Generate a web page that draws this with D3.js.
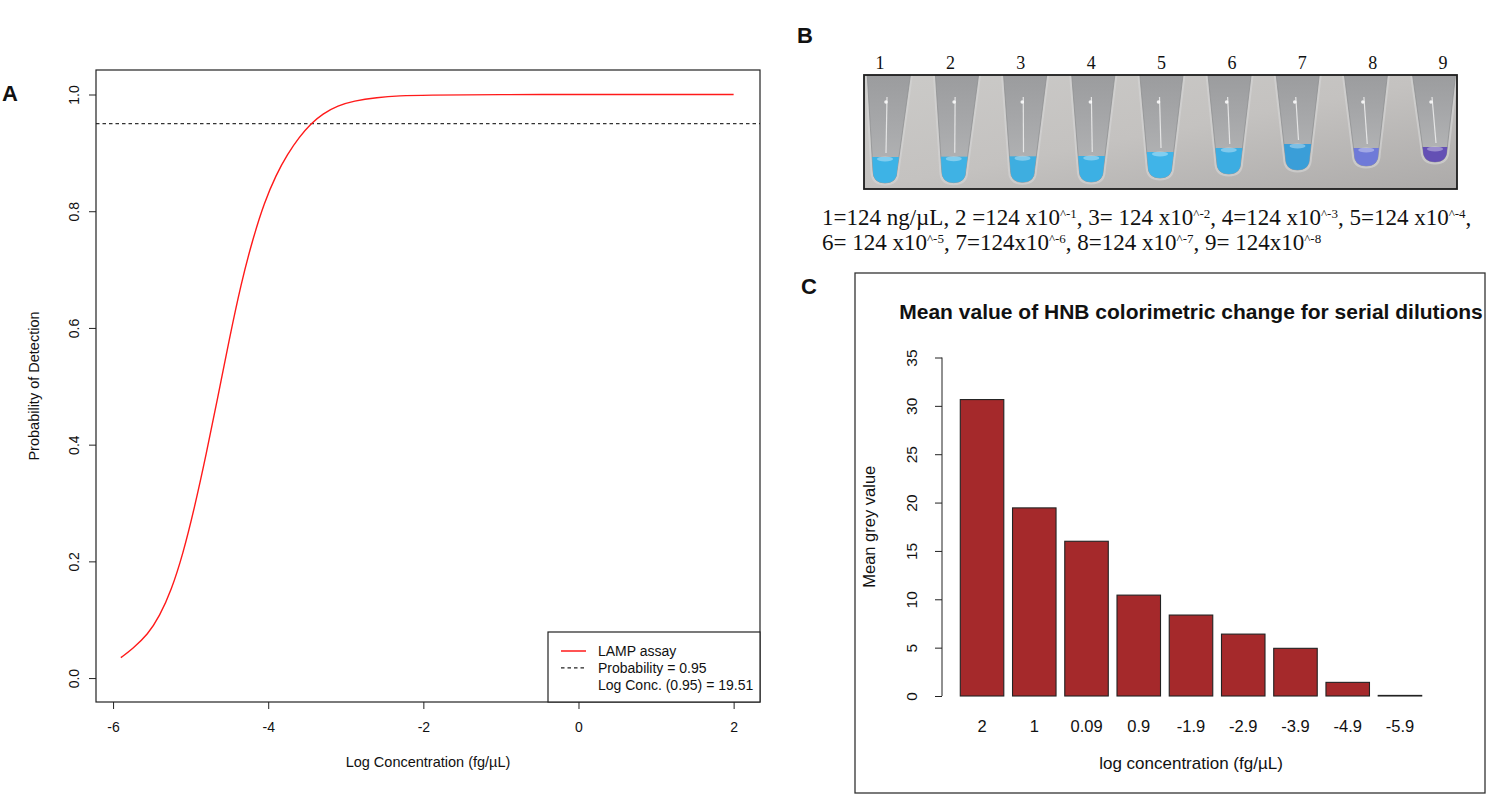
<!DOCTYPE html>
<meta charset="utf-8">
<script src="https://d3js.org/d3.v7.min.js"></script>
<style>
  body { margin: 0; background: #fff; }
  text { font-family: "Liberation Sans", Arial, sans-serif; fill: #111; }
  .serif { font-family: "Liberation Serif", "Times New Roman", serif; }
</style>
<div id="fig"></div>
<script>

// ---- Panel A: probability of detection curve
var logConc = [-5.9, -5.75, -5.55, -5.4, -5.25, -5.1, -4.95, -4.8, -4.65, -4.5,
               -4.35, -4.2, -4.05, -3.9, -3.75, -3.6, -3.45, -3.3, -3.1, -2.9,
               -2.6, -2.3, -2.0, -1.0, 0, 1, 2];
var probDetect = [0.035, 0.050, 0.075, 0.106, 0.150, 0.212, 0.292, 0.383, 0.481, 0.582,
                  0.676, 0.752, 0.815, 0.862, 0.898, 0.927, 0.950, 0.967, 0.981, 0.989,
                  0.995, 0.998, 0.999, 1.0, 1.0, 1.0, 1.0];
var xTicksA = [-6, -4, -2, 0, 2];
var yTicksA = [0, 0.2, 0.4, 0.6, 0.8, 1.0];
var cutoffA = 0.95;
var legendA = ["LAMP assay", "Probability = 0.95", "Log Conc. (0.95) = 19.51"];

// ---- Panel B: tube photo
var tubes = ["1", "2", "3", "4", "5", "6", "7", "8", "9"];
// odd entries are superscripts
var dilutionLine1 = ["1=124 ng/\u00b5L, 2 =124 x10", "^-1", ", 3= 124 x10", "^-2",
                     ", 4=124 x10", "^-3", ", 5=124 x10", "^-4", ","];
var dilutionLine2 = ["6= 124 x10", "^-5", ", 7=124x10", "^-6", ", 8=124 x10", "^-7",
                     ", 9= 124x10", "^-8"];

// ---- Panel C: bar chart
var concLabels = ["2", "1", "0.09", "0.9", "-1.9", "-2.9", "-3.9", "-4.9", "-5.9"];
var greyValues = [30.65, 19.45, 16.0, 10.43, 8.37, 6.4, 4.93, 1.41, 0.06];
var yTicksC = [0, 5, 10, 15, 20, 25, 30, 35];

// liquid colours of the tubes (style)
var tubeColours = ["#3db3e6", "#3fb2e4", "#3eaee0", "#3cb0e4", "#40b4e8", "#3cade2",
                   "#3a9ed8", "#6f7ad8", "#6450b4"];

var W = 1503, H = 795;
var svg = d3.select("#fig").append("svg")
    .attr("width", W).attr("height", H);
svg.append("rect").attr("width", W).attr("height", H).attr("fill", "#fff");

var ink = "#222";

// panel letters
[["A", 2, 101], ["B", 797, 43], ["C", 801, 294]].forEach(function(p) {
  svg.append("text").attr("x", p[1]).attr("y", p[2])
    .attr("font-size", 22).attr("font-weight", "bold").text(p[0]);
});

// =================== Panel A ===================
var xA = d3.scaleLinear().domain([-6.22, 2.34]).range([96, 760]);
var yA = d3.scaleLinear().domain([-0.041, 1.042]).range([702, 70]);

var gA = svg.append("g");

gA.append("line")
    .attr("x1", xA.range()[0]).attr("x2", xA.range()[1])
    .attr("y1", yA(cutoffA)).attr("y2", yA(cutoffA))
    .attr("stroke", "#333").attr("stroke-width", 1.2)
    .attr("stroke-dasharray", "3.5,3");

var line = d3.line()
    .x(function(d, i) { return xA(logConc[i]); })
    .y(function(d) { return yA(d); })
    .curve(d3.curveBasis);
gA.append("path").datum(probDetect)
    .attr("d", line).attr("fill", "none")
    .attr("stroke", "#ff1a1a").attr("stroke-width", 1.4);

// x axis
var axA = gA.append("g")
    .attr("transform", "translate(0," + yA.range()[0] + ")")
    .call(d3.axisBottom(xA).tickValues(xTicksA).tickSize(7).tickPadding(13)
      .tickFormat(function(d) { return String(d); }));
axA.select(".domain").remove();
axA.selectAll("line").attr("stroke", ink);
axA.selectAll("text").attr("font-size", 14).attr("fill", "#111")
    .attr("font-family", "Liberation Sans, Arial, sans-serif");

// y axis (labels parallel to the axis, as in R)
var ayA = gA.append("g")
    .attr("transform", "translate(" + xA.range()[0] + ",0)")
    .call(d3.axisLeft(yA).tickValues(yTicksA).tickSize(7).tickFormat(d3.format(".1f")));
ayA.select(".domain").remove();
ayA.selectAll("line").attr("stroke", ink);
ayA.selectAll("text")
    .attr("font-size", 14).attr("fill", "#111")
    .attr("font-family", "Liberation Sans, Arial, sans-serif")
    .attr("x", null)
    .attr("text-anchor", "middle")
    .attr("transform", "translate(-22,0) rotate(-90)")
    .attr("dy", "0.35em");

gA.append("rect")
    .attr("x", xA.range()[0]).attr("y", yA.range()[1])
    .attr("width", xA.range()[1] - xA.range()[0])
    .attr("height", yA.range()[0] - yA.range()[1])
    .attr("fill", "none").attr("stroke", ink).attr("stroke-width", 1.2);

gA.append("text")
    .attr("x", (xA.range()[0] + xA.range()[1]) / 2).attr("y", 767)
    .attr("text-anchor", "middle").attr("font-size", 14.5)
    .text("Log Concentration (fg/\u00b5L)");
gA.append("text")
    .attr("transform", "translate(39," + (yA.range()[0] + yA.range()[1]) / 2 + ") rotate(-90)")
    .attr("text-anchor", "middle").attr("font-size", 14.5)
    .text("Probability of Detection");

// legend (bottom right, overlapping the frame)
var lg = gA.append("g");
var lgX = 548, lgY = 632;
lg.append("rect")
    .attr("x", lgX).attr("y", lgY)
    .attr("width", xA.range()[1] - lgX).attr("height", yA.range()[0] - lgY)
    .attr("fill", "#fff").attr("stroke", ink).attr("stroke-width", 1.2);
legendA.forEach(function(t, i) {
  var ty = lgY + 19 + i * 16.8;
  if (i === 0) lg.append("line").attr("x1", lgX + 13).attr("x2", lgX + 38)
      .attr("y1", ty).attr("y2", ty).attr("stroke", "#ff1a1a").attr("stroke-width", 1.5);
  if (i === 1) lg.append("line").attr("x1", lgX + 13).attr("x2", lgX + 38)
      .attr("y1", ty).attr("y2", ty).attr("stroke", "#222").attr("stroke-width", 1.2)
      .attr("stroke-dasharray", "3.5,3");
  lg.append("text").attr("x", lgX + 50).attr("y", ty).attr("dy", "0.35em")
    .attr("font-size", 14).text(t);
});

// =================== Panel B ===================
var photo = { x0: 864, x1: 1457, y0: 75, y1: 189 };
var defs = svg.append("defs");
var bg = defs.append("linearGradient").attr("id", "photoBg")
    .attr("x1", 0).attr("y1", 0).attr("x2", 1).attr("y2", 1);
bg.append("stop").attr("offset", 0).attr("stop-color", "#cbcac8");
bg.append("stop").attr("offset", 0.5).attr("stop-color", "#c4c2c0");
bg.append("stop").attr("offset", 1).attr("stop-color", "#acaaa9");
var tubeGrad = defs.append("linearGradient").attr("id", "tubeBody")
    .attr("x1", 0).attr("y1", 0).attr("x2", 0).attr("y2", 1);
tubeGrad.append("stop").attr("offset", 0).attr("stop-color", "#9a9b9d");
tubeGrad.append("stop").attr("offset", 0.45).attr("stop-color", "#a6a7a9");
tubeGrad.append("stop").attr("offset", 1).attr("stop-color", "#b6b7b8");
defs.append("clipPath").attr("id", "photoClip").append("rect")
    .attr("x", photo.x0).attr("y", photo.y0)
    .attr("width", photo.x1 - photo.x0).attr("height", photo.y1 - photo.y0);

var xTop = d3.scalePoint().domain(tubes).range([889, 1434]);
var xBot = d3.scalePoint().domain(tubes).range([885, 1435]);
var xNum = d3.scalePoint().domain(tubes).range([880, 1443]);
// tube tips rise towards the right of the photo
var tipY = d3.scaleLinear().domain([0, 3, 8]).range([183, 182, 162]);
var liquidH = d3.scaleLinear().domain([0, 6, 7, 8]).range([26, 26, 18, 15]);

var gB = svg.append("g");
gB.append("rect")
    .attr("x", photo.x0).attr("y", photo.y0)
    .attr("width", photo.x1 - photo.x0).attr("height", photo.y1 - photo.y0)
    .attr("fill", "url(#photoBg)");

var tubeLayer = gB.append("g").attr("clip-path", "url(#photoClip)");

function tubePath(i, grow) {
  var cx = xTop(tubes[i]), bx = xBot(tubes[i]), by = tipY(i) + grow;
  var wt = 22 + grow, wb = 12 + grow;
  return "M" + (cx - wt) + "," + (photo.y0 - 4) +
    "L" + (bx - wb) + "," + (by - wb) +
    "Q" + (bx - wb) + "," + by + " " + bx + "," + by +
    "Q" + (bx + wb) + "," + by + " " + (bx + wb) + "," + (by - wb) +
    "L" + (cx + wt) + "," + (photo.y0 - 4) + "Z";
}

tubes.forEach(function(t, i) {
  var g = tubeLayer.append("g");
  // outer rim of the tube
  g.append("path").attr("d", tubePath(i, 2.5))
    .attr("fill", "#d3d3d3").attr("opacity", 0.7);
  g.append("path").attr("d", tubePath(i, 0))
    .attr("fill", "url(#tubeBody)").attr("stroke", "#8f9092").attr("stroke-width", 0.8);
  var cid = "tubeClip" + i;
  defs.append("clipPath").attr("id", cid).append("path").attr("d", tubePath(i, 0));
  var by = tipY(i);
  g.append("rect")
    .attr("clip-path", "url(#" + cid + ")")
    .attr("x", xBot(t) - 20).attr("width", 40)
    .attr("y", by - liquidH(i)).attr("height", liquidH(i) + 2)
    .attr("fill", tubeColours[i]);
  g.append("ellipse")
    .attr("cx", xBot(t)).attr("cy", by - liquidH(i) + 2)
    .attr("rx", 8).attr("ry", 2.5).attr("fill", "#fff").attr("opacity", 0.35);
  // light reflection along the tube
  g.append("line")
    .attr("x1", xTop(t) - 2).attr("y1", photo.y0 + 22)
    .attr("x2", xBot(t) + 1).attr("y2", by - liquidH(i) - 4)
    .attr("stroke", "#f4f4f4").attr("stroke-width", 1.2).attr("opacity", 0.8);
  g.append("circle")
    .attr("cx", xTop(t) - 3).attr("cy", photo.y0 + 27).attr("r", 1.8)
    .attr("fill", "#fff").attr("opacity", 0.85);
});

gB.append("rect")
    .attr("x", photo.x0).attr("y", photo.y0)
    .attr("width", photo.x1 - photo.x0).attr("height", photo.y1 - photo.y0)
    .attr("fill", "none").attr("stroke", "#1c1c1c").attr("stroke-width", 1.8);

gB.selectAll(".tubeNum").data(tubes).enter().append("text")
    .attr("class", "serif tubeNum")
    .attr("x", function(d) { return xNum(d); }).attr("y", 69)
    .attr("text-anchor", "middle").attr("font-size", 18)
    .text(function(d) { return d; });

function richLine(parts, y) {
  var t = gB.append("text").attr("class", "serif")
      .attr("x", 822).attr("y", y).attr("font-size", 23);
  parts.forEach(function(p, i) {
    var sp = t.append("tspan").text(p);
    if (i % 2 === 1) sp.attr("font-size", 13).attr("dy", -7);
    else if (i > 0) sp.attr("dy", 7);
  });
}
richLine(dilutionLine1, 225);
richLine(dilutionLine2, 250);

// =================== Panel C ===================
var boxC = { x0: 855, y0: 273, x1: 1485, y1: 793 };
var xC = d3.scaleBand().domain(concLabels).range([942, 1440])
    .paddingInner(0.167).paddingOuter(0.35);
var yC = d3.scaleLinear().domain([0, 35]).range([696, 357.5]);

var gC = svg.append("g");
defs.append("clipPath").attr("id", "clipC").append("rect")
    .attr("x", boxC.x0).attr("y", boxC.y0)
    .attr("width", boxC.x1 - boxC.x0).attr("height", boxC.y1 - boxC.y0);

gC.selectAll(".bar").data(greyValues).enter().append("rect")
    .attr("class", "bar")
    .attr("x", function(d, i) { return xC(concLabels[i]); })
    .attr("width", xC.bandwidth())
    .attr("y", function(d) { return yC(d); })
    .attr("height", function(d) { return yC(0) - yC(d); })
    .attr("fill", "#a5292b").attr("stroke", "#222").attr("stroke-width", 1.1);

gC.selectAll(".xlab").data(concLabels).enter().append("text")
    .attr("class", "xlab")
    .attr("x", function(d) { return xC(d) + xC.bandwidth() / 2; })
    .attr("y", 726).attr("dy", "0.35em")
    .attr("text-anchor", "middle").attr("font-size", 16.5)
    .text(function(d) { return d; });

var ayC = gC.append("g")
    .attr("transform", "translate(942,0)")
    .call(d3.axisLeft(yC).tickValues(yTicksC).tickSize(7).tickSizeOuter(0));
ayC.select(".domain").attr("stroke", ink).attr("d", "M0," + yC(0) + "V" + yC(35));
ayC.selectAll("line").attr("stroke", ink);
ayC.selectAll("text")
    .attr("font-size", 15.5).attr("fill", "#111")
    .attr("font-family", "Liberation Sans, Arial, sans-serif")
    .attr("x", null).attr("text-anchor", "middle")
    .attr("transform", "translate(-30,0) rotate(-90)")
    .attr("dy", "0.35em");

gC.append("text")
    .attr("x", 1191).attr("y", 769).attr("text-anchor", "middle")
    .attr("font-size", 17).text("log concentration (fg/\u00b5L)");
gC.append("text")
    .attr("transform", "translate(875," + (yC(0) + yC(35)) / 2 + ") rotate(-90)")
    .attr("text-anchor", "middle").attr("font-size", 16.5)
    .text("Mean grey value");

gC.append("text").attr("clip-path", "url(#clipC)")
    .attr("x", 1191).attr("y", 319).attr("text-anchor", "middle")
    .attr("font-size", 21).attr("font-weight", "bold")
    .text("Mean value of HNB colorimetric change for serial dilutions");

gC.append("rect")
    .attr("x", boxC.x0).attr("y", boxC.y0)
    .attr("width", boxC.x1 - boxC.x0).attr("height", boxC.y1 - boxC.y0)
    .attr("fill", "none").attr("stroke", "#333").attr("stroke-width", 1.3);

</script>
